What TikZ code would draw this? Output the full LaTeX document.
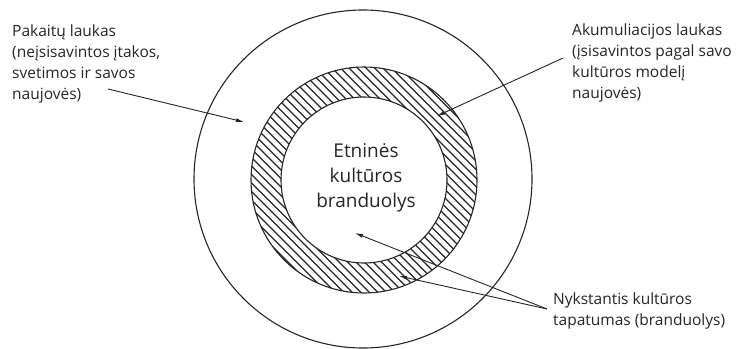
\documentclass[tikz,border=0pt]{standalone}
\usepackage{fontspec}
\setmainfont{Open Sans}
\usetikzlibrary{arrows.meta}
\begin{document}
\begin{tikzpicture}[x=1pt,y=-1pt,
  lbl/.style={inner sep=0pt, align=left, anchor=north west, text=black!85, font=\fontsize{15.5}{21}\selectfont},
  ctr/.style={inner sep=0pt, align=center, text=black!85, font=\fontsize{19}{25}\selectfont},
  ring/.style={line width=1.1pt, draw=black!85},
  hatch/.style={line width=1.3pt, draw=black!85},
  arr/.style={line width=0.9pt, draw=black!85, -{Latex[length=8pt,width=4pt]}}]
\useasboundingbox (0,0) rectangle (746,348);
\fill[white] (0,0) rectangle (746,348);
% circles
\coordinate (c) at (363,179);
\draw[ring] (c) circle[radius=169];
\begin{scope}[even odd rule]
  \clip (364,180) circle[radius=113] (364,180) circle[radius=83];
  \foreach \i in {-260,-251.5,...,260} {
    \draw[hatch] (364+\i-150,30) -- (364+\i+150,330);
  }
\end{scope}
\draw[ring] (364,180) circle[radius=113];
\draw[ring] (364,180) circle[radius=83];
% texts
\node[lbl] (pak) at (12,25) {Pakaitų laukas\\(neįsisavintos įtakos,\\svetimos ir savos\\naujovės)};
\node[lbl] (aku) at (572,24) {Akumuliacijos laukas\\(įsisavintos pagal savo\\kultūros modelį\\naujovės)};
\node[lbl] (nyk) at (553,293) {Nykstantis kultūros\\tapatumas (branduolys)};
\node[ctr] (etn) at (366,178) {Etninės\\kultūros\\branduolys};
% arrow points
\coordinate (pakS) at (108,89);
\coordinate (pakT) at (244,122);
\coordinate (akuS) at (563,58);
\coordinate (akuT) at (437,116);
\coordinate (nykS) at (547,309);
\coordinate (nykT1) at (355,233);
\coordinate (nykT2) at (399,276);
\draw[arr] (pakS) -- (pakT);
\draw[arr] (akuS) -- (akuT);
\draw[arr] (nykS) -- (nykT1);
\draw[arr] (nykS) -- (nykT2);
\end{tikzpicture}
\end{document}
